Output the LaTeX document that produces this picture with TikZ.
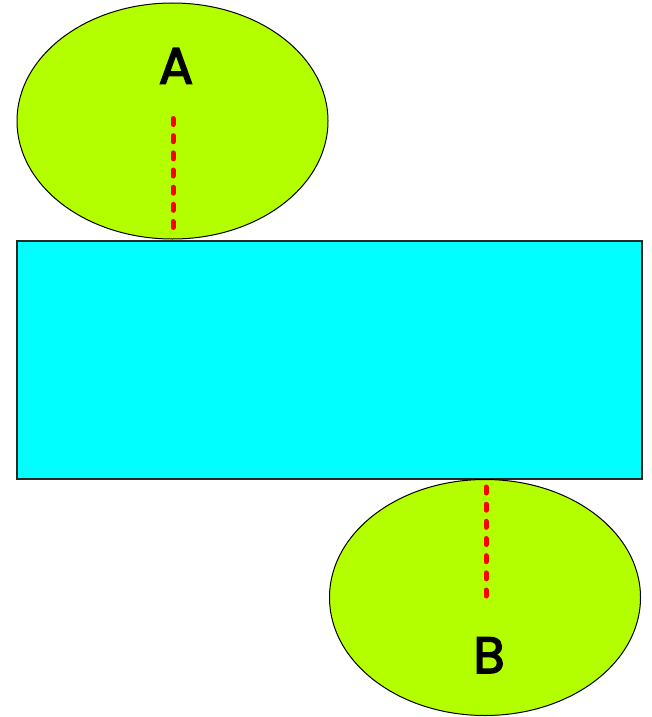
\documentclass[tikz,border=0pt]{standalone}
\usepackage{fontspec}
\setmainfont{Liberation Sans}
\newfontfamily\labfont{Poppins}[UprightFeatures={FakeBold=3}]
\usetikzlibrary{shapes.geometric}
\definecolor{lime}{RGB}{179,255,0}
\definecolor{aqua}{RGB}{0,255,255}
\tikzset{
  blob/.style={ellipse, draw=black, line width=1pt, fill=lime, minimum width=311pt, minimum height=236pt, inner sep=0pt},
  slab/.style={rectangle, draw=black!85, line width=1.3pt, fill=aqua, minimum width=625pt, minimum height=238pt, inner sep=0pt},
  lab/.style={font=\labfont\fontsize{51}{51}\selectfont, inner sep=0pt, anchor=base},
  reddash/.style={draw=red, line width=5pt, line cap=round, dash pattern=on 6pt off 11.17pt}
}
\begin{document}
\begin{tikzpicture}[x=1pt,y=-1pt]
\useasboundingbox (0,0) rectangle (651,717);
\node[slab] (r) at (329.5,360) {};
\node[blob] (ea) at (172.5,121) {};
\node[blob] (eb) at (485,597.5) {};
\node[lab] (la) at (176,83.5) {A};
\node[lab] (lb) at (489,673) {B};
\draw[reddash, shorten <=-2.5pt, shorten >=6.5pt] ([xshift=0.5pt]ea.center) -- ([xshift=0.5pt]ea.south);
\draw[reddash, shorten <=8pt, shorten >=1pt] ([xshift=1pt]eb.north) -- ([xshift=1pt]eb.center);
\end{tikzpicture}
\end{document}
